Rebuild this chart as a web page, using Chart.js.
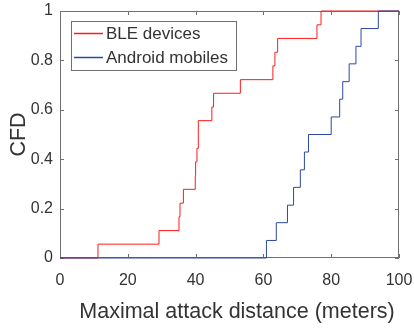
<!DOCTYPE html>
<html>
<head>
<meta charset="utf-8">
<script src="https://cdn.jsdelivr.net/npm/chart.js@4"></script>
<style>
  html, body { margin: 0; padding: 0; background: #fff; }
  #wrap { width: 414px; height: 328px; }
</style>
</head>
<body>
<div id="wrap"><canvas id="cfdChart"></canvas></div>
<script>
const bleDistance = [0, 11.2, 29.2, 35.1, 35.4, 36.4, 39.9, 40.0, 40.4, 40.8, 40.8, 44.8, 45.3, 53.2, 62.8, 63.4, 64.2, 75.8, 77.0, 100];
const bleCfd = [0, 0.056, 0.111, 0.167, 0.222, 0.278, 0.333, 0.389, 0.444, 0.5, 0.556, 0.611, 0.667, 0.722, 0.778, 0.833, 0.889, 0.944, 1, 1];

const androidDistance = [0, 60.9, 63.8, 67.1, 68.9, 70.9, 72.1, 73.3, 80.0, 82.5, 83.4, 85.3, 87.3, 88.8, 93.9, 100];
const androidCfd = [0, 0.071, 0.143, 0.214, 0.286, 0.357, 0.429, 0.5, 0.571, 0.643, 0.714, 0.786, 0.857, 0.929, 1, 1];

const seriesLabels = ["BLE devices", "Android mobiles"];
const xTitle = "Maximal attack distance (meters)";
const yTitle = "CFD";

const fontFamily = "'Liberation Sans', Arial, sans-serif";
const textColor = "#333333";
const axisColor = "#707070";
const seriesColors = ["#ff1a1a", "#2b48a6"];

const toPoints = (xs, ys) => xs.map((x, i) => ({ x: x, y: ys[i] }));

// MATLAB-style box with inward ticks, titles and a boxed legend
const matlabFrame = {
  id: "matlabFrame",
  beforeDatasetsDraw(chart) {
    const { ctx, chartArea: a, scales } = chart;
    ctx.save();
    ctx.strokeStyle = axisColor;
    ctx.lineWidth = 1;
    ctx.strokeRect(a.left + 0.5, a.top + 0.5, a.right - a.left - 1, a.bottom - a.top - 1);
    ctx.beginPath();
    scales.x.ticks.forEach((t) => {
      const px = Math.round(scales.x.getPixelForValue(t.value)) + 0.5;
      ctx.moveTo(px, a.bottom); ctx.lineTo(px, a.bottom - 4);
      ctx.moveTo(px, a.top); ctx.lineTo(px, a.top + 4);
    });
    scales.y.ticks.forEach((t) => {
      const py = Math.round(scales.y.getPixelForValue(t.value)) + 0.5;
      ctx.moveTo(a.left, py); ctx.lineTo(a.left + 4, py);
      ctx.moveTo(a.right, py); ctx.lineTo(a.right - 4, py);
    });
    ctx.stroke();
    ctx.restore();
  },
  afterDraw(chart) {
    const { ctx, chartArea: a } = chart;
    ctx.save();
    // axis titles
    ctx.fillStyle = textColor;
    ctx.font = "21.5px " + fontFamily;
    ctx.textAlign = "center";
    ctx.textBaseline = "alphabetic";
    ctx.fillText(xTitle, 237, 318);
    ctx.translate(25, (a.top + a.bottom) / 2);
    ctx.rotate(-Math.PI / 2);
    ctx.fillText(yTitle, 0, 0);
    ctx.restore();

    // legend
    ctx.save();
    const bx = a.left + 11, by = a.top + 10, bw = 165, bh = 49;
    ctx.fillStyle = "#fff";
    ctx.fillRect(bx, by, bw, bh);
    ctx.strokeStyle = axisColor;
    ctx.lineWidth = 1;
    ctx.strokeRect(bx + 0.5, by + 0.5, bw, bh);
    ctx.font = "17px " + fontFamily;
    ctx.textBaseline = "middle";
    ctx.textAlign = "left";
    seriesLabels.forEach((label, i) => {
      const cy = by + 12.5 + i * 24;
      ctx.strokeStyle = seriesColors[i];
      ctx.lineWidth = 1.5;
      ctx.beginPath();
      ctx.moveTo(bx + 3, cy); ctx.lineTo(bx + 32, cy);
      ctx.stroke();
      ctx.fillStyle = textColor;
      ctx.fillText(label, bx + 35, cy + 1);
    });
    ctx.restore();
  },
};

new Chart(document.getElementById("cfdChart"), {
  type: "line",
  data: {
    datasets: [
      {
        label: seriesLabels[0],
        data: toPoints(bleDistance, bleCfd),
        borderColor: seriesColors[0],
        borderWidth: 1,
        stepped: true,
        pointRadius: 0,
        clip: 2,
        order: 1,
      },
      {
        label: seriesLabels[1],
        data: toPoints(androidDistance, androidCfd),
        borderColor: seriesColors[1],
        borderWidth: 1,
        stepped: true,
        pointRadius: 0,
        clip: 2,
        order: 0,
      },
    ],
  },
  options: {
    responsive: true,
    maintainAspectRatio: false,
    animation: false,
    layout: { padding: { top: 11, right: 15, left: 0, bottom: 0 } },
    scales: {
      x: {
        type: "linear",
        min: 0,
        max: 100,
        ticks: { stepSize: 20, color: textColor, font: { family: fontFamily, size: 16 }, padding: 13, maxRotation: 0 },
        grid: { display: false, drawTicks: false },
        border: { display: false },
        afterFit: (scale) => {
          scale.height = 70;
          scale.paddingLeft = 0;
          scale.paddingRight = 0;
        },
      },
      y: {
        min: 0,
        max: 1,
        ticks: {
          stepSize: 0.2,
          color: textColor,
          font: { family: fontFamily, size: 16 },
          padding: 7,
          callback: (v) => String(+v.toFixed(1)),
        },
        grid: { display: false, drawTicks: false },
        border: { display: false },
        afterFit: (scale) => {
          scale.width = 60;
          scale.paddingTop = 0;
          scale.paddingBottom = 0;
        },
      },
    },
    plugins: {
      legend: { display: false },
      tooltip: { enabled: false },
    },
  },
  plugins: [matlabFrame],
});
</script>
</body>
</html>
